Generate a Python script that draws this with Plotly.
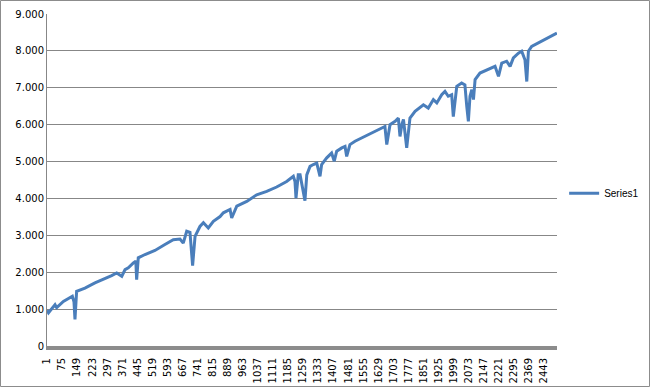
import plotly.graph_objects as go

# Category index (1-based) and value
point_index = [1, 8, 40, 48, 81, 114, 125, 133, 138, 146, 187, 236, 286, 318, 343, 368, 384, 400,
               425, 437, 441, 449, 482, 531, 580, 621, 654, 670, 687, 703, 716, 728, 752, 769, 793,
               818, 851, 867, 900, 908, 933, 982, 1031, 1080, 1129, 1178, 1211, 1219, 1224, 1235,
               1244, 1260, 1268, 1277, 1293, 1309, 1326, 1342, 1350, 1375, 1399, 1412, 1424, 1449,
               1465, 1473, 1489, 1514, 1547, 1579, 1612, 1645, 1661, 1670, 1686, 1711, 1727, 1735,
               1744, 1752, 1768, 1784, 1809, 1850, 1874, 1899, 1916, 1940, 1956, 1972, 1989, 1997,
               2014, 2038, 2054, 2063, 2071, 2079, 2088, 2096, 2104, 2128, 2161, 2186, 2202, 2219,
               2235, 2259, 2276, 2292, 2317, 2333, 2349, 2358, 2366, 2382, 2415, 2448, 2481, 2506]
point_value = [0.97, 0.90, 1.12, 1.04, 1.21, 1.33, 1.35, 1.20, 0.72, 1.48, 1.57, 1.71, 1.82, 1.91,
               1.98, 1.89, 2.07, 2.12, 2.25, 2.30, 1.80, 2.39, 2.48, 2.59, 2.75, 2.88, 2.90, 2.79,
               3.11, 3.08, 2.18, 2.97, 3.24, 3.34, 3.20, 3.38, 3.51, 3.61, 3.70, 3.47, 3.79, 3.92,
               4.10, 4.19, 4.31, 4.46, 4.60, 4.46, 4.01, 4.64, 4.64, 4.19, 3.94, 4.64, 4.87, 4.92,
               4.96, 4.60, 4.92, 5.10, 5.23, 5.01, 5.28, 5.37, 5.41, 5.14, 5.46, 5.55, 5.64, 5.71,
               5.82, 5.91, 5.95, 5.46, 6.00, 6.09, 6.18, 5.68, 6.00, 6.14, 5.37, 6.18, 6.36, 6.54,
               6.45, 6.68, 6.59, 6.81, 6.90, 6.77, 6.81, 6.22, 7.04, 7.13, 7.08, 6.50, 6.09, 6.77,
               6.95, 6.68, 7.22, 7.40, 7.49, 7.54, 7.58, 7.31, 7.67, 7.72, 7.58, 7.81, 7.94, 7.99,
               7.76, 7.17, 7.99, 8.12, 8.21, 8.30, 8.39, 8.48]
n_categories = 2506
x_tick_labels = [str(v) for v in range(1, 2444, 74)]
y_tick_values = list(range(0, 10))
y_tick_labels = ["0"] + ["%d.000" % v for v in range(1, 10)]
series_name = "Series1"

fig = go.Figure()
fig.add_trace(go.Scatter(x=point_index, y=point_value, mode="lines", name=series_name,
                         line=dict(color="#4a7ebb", width=3)))

plot_w = 510
plot_h = 332
fig.update_layout(
    width=650, height=387,
    margin=dict(l=47, r=93, t=14, b=41, autoexpand=False),
    paper_bgcolor="white", plot_bgcolor="white",
    showlegend=True,
    legend=dict(x=1.014, y=0.46, xanchor="left", yanchor="middle",
                font=dict(family="Liberation Sans", size=10, color="black"),
                bgcolor="rgba(0,0,0,0)"),
    xaxis=dict(range=[0.5, n_categories + 0.5],
               tickvals=[int(t) for t in x_tick_labels], ticktext=x_tick_labels,
               tickangle=-90, tickfont=dict(family="DejaVu Sans", size=10, color="black"),
               ticklabelstandoff=4, automargin=False,
               showgrid=False, zeroline=False, showline=True, linecolor="#8c8c8c",
               linewidth=4, ticks="", fixedrange=True),
    yaxis=dict(range=[0, 9], tickvals=y_tick_values, ticktext=y_tick_labels,
               tickfont=dict(family="DejaVu Sans", size=10, color="black"),
               automargin=False,
               showgrid=True, gridcolor="#878787", gridwidth=1, zeroline=False,
               showline=True, linecolor="#878787", linewidth=1, ticks="", fixedrange=True),
    shapes=[dict(type="rect", xref="paper", yref="paper",
                 x0=(0.5 - 47) / plot_w, x1=(649.5 - 47) / plot_w,
                 y0=(346 - 386.5) / plot_h, y1=(346 - 0.5) / plot_h,
                 line=dict(color="#8c8c8c", width=1), fillcolor="rgba(0,0,0,0)")],
)

fig.write_html("out.html")
